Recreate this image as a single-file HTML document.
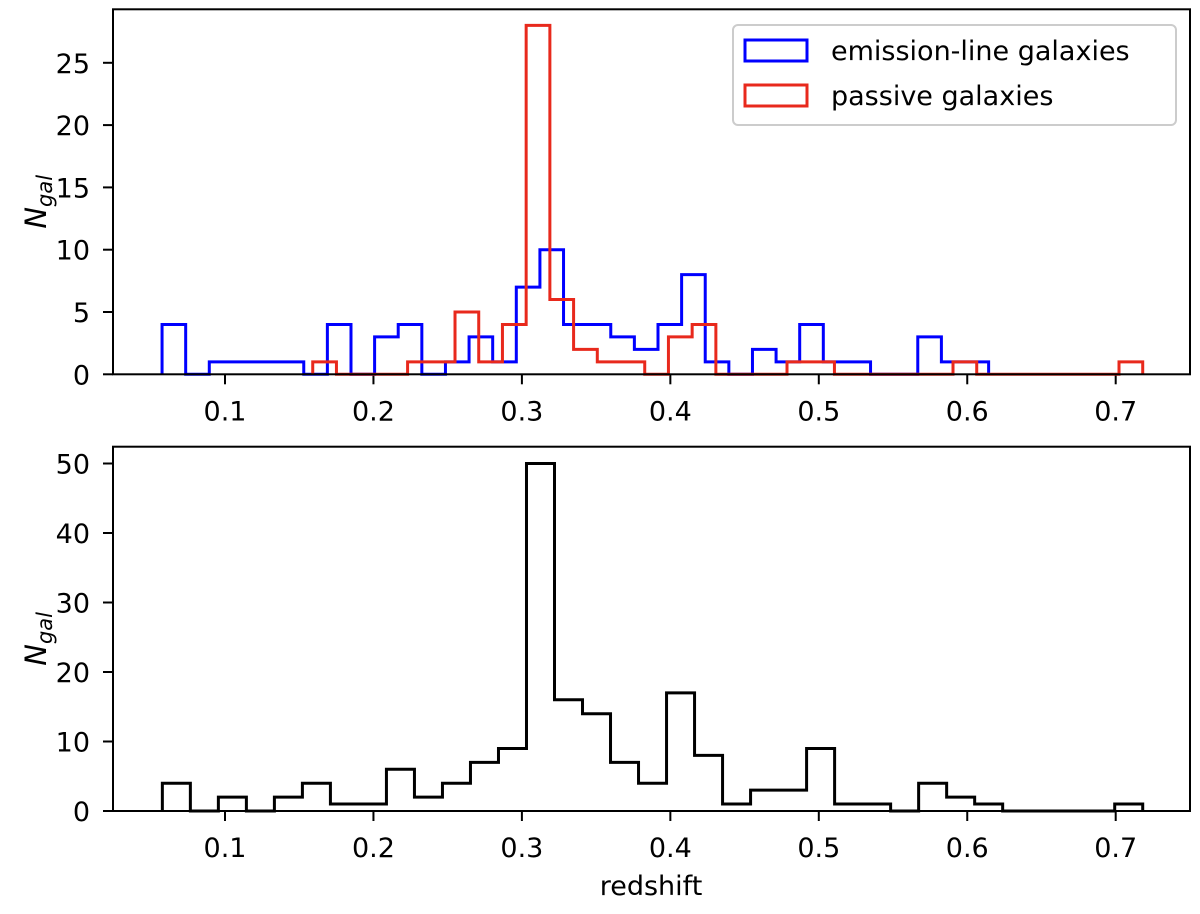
<!DOCTYPE html>
<html><head><meta charset="utf-8"><style>
html,body{margin:0;padding:0;background:#fff}
svg text{font-family:"DejaVu Sans","Liberation Sans",sans-serif;fill:#000}
</style></head><body>
<svg id="chart" width="1200" height="909" viewBox="0 0 1200 909" xmlns="http://www.w3.org/2000/svg">
<rect width="1200" height="909" fill="#fff"/>
<g id="top"></g>
<g id="bot"></g>
</svg>
<script>
const emissionCounts=[4,0,1,1,1,1,0,4,0,3,4,0,1,3,1,7,10,4,4,3,2,4,8,1,0,2,1,4,1,1,0,0,3,1,1];
const emissionRange=[0.0576,0.6144];
const passiveCounts=[1,0,0,0,1,1,5,1,4,28,6,2,1,1,0,3,4,0,0,0,1,1,0,0,0,0,0,1,0,0,0,0,0,0,1];
const passiveRange=[0.1591,0.7182];
const allCounts=[4,0,2,0,2,4,1,1,6,2,4,7,9,50,16,14,7,4,17,8,1,3,3,9,1,1,0,4,2,1,0,0,0,0,1];
const allRange=[0.0578,0.7182];
const xTicks=[0.1,0.2,0.3,0.4,0.5,0.6,0.7];
const topYTicks=[0,5,10,15,20,25];
const botYTicks=[0,10,20,30,40,50];

const NS="http://www.w3.org/2000/svg";
const L=113,R=1190;
const xs=v=>225+(v-0.1)*1484.5;
const topY=n=>374.3-12.46*n;
const botY=n=>811-6.95*n;
function mk(tag,attrs,parent){const e=document.createElementNS(NS,tag);for(const k in attrs)e.setAttribute(k,attrs[k]);parent.appendChild(e);return e;}
function stepPath(counts,range,ys){
  const w=(range[1]-range[0])/counts.length;
  let d="M"+xs(range[0])+","+ys(0);
  counts.forEach((c,i)=>{const x0=xs(range[0]+i*w),x1=xs(range[0]+(i+1)*w);d+=" L"+x0+","+ys(c)+" L"+x1+","+ys(c);});
  d+=" L"+xs(range[1])+","+ys(0);
  return d;
}
function axes(g,top,bottom,ys,yt,name){
  xTicks.forEach(t=>{
    const tk=mk("line",{x1:xs(t),x2:xs(t),y1:bottom,y2:bottom+10,stroke:"#000","stroke-width":2},g);
    
    
    const tx=mk("text",{x:xs(t),y:bottom+46,"font-size":27,"text-anchor":"middle"},g);
    tx.textContent=t.toFixed(1);
    
    
  });
  yt.forEach(t=>{
    const tk=mk("line",{x1:L-10,x2:L,y1:ys(t),y2:ys(t),stroke:"#000","stroke-width":2},g);
    
    
    const tx=mk("text",{x:90,y:ys(t)+10,"font-size":27,"text-anchor":"end"},g);
    tx.textContent=t;
    
    
  });
  const cy=(top+bottom)/2+10;
  const yl=mk("text",{transform:"translate(46,"+cy+") rotate(-90)","font-size":29,"text-anchor":"middle","font-style":"italic"},g);
  yl.innerHTML='N<tspan font-size="21" dy="6">gal</tspan>';
  
  
}
function frame(g,top,bottom,name){
  const f=mk("rect",{x:L,y:top,width:R-L,height:bottom-top,fill:"none",stroke:"#000","stroke-width":2},g);
  
  
}
const gt=document.getElementById("top"),gb=document.getElementById("bot");
axes(gt,9.3,374.3,topY,topYTicks,"top");
const pb=mk("path",{d:stepPath(emissionCounts,emissionRange,topY),fill:"none",stroke:"#0000ff","stroke-width":3,"stroke-linejoin":"miter"},gt);


const pr=mk("path",{d:stepPath(passiveCounts,passiveRange,topY),fill:"none",stroke:"#e8291c","stroke-width":3},gt);


frame(gt,9.3,374.3,"top");
const lg=mk("g",{},gt);


mk("rect",{x:733,y:25,width:443,height:100,rx:5,fill:"#fff","fill-opacity":0.8,stroke:"#cccccc","stroke-width":2},lg);
const e1=mk("rect",{x:745,y:40,width:62,height:21,fill:"none",stroke:"#0000ff","stroke-width":3},lg);


const t1=mk("text",{x:831,y:60,"font-size":27},lg);t1.textContent="emission-line galaxies";


const e2=mk("rect",{x:745,y:85,width:62,height:21,fill:"none",stroke:"#e8291c","stroke-width":3},lg);


const t2=mk("text",{x:831,y:105,"font-size":27},lg);t2.textContent="passive galaxies";



axes(gb,446.7,811,botY,botYTicks,"bottom");
const pa=mk("path",{d:stepPath(allCounts,allRange,botY),fill:"none",stroke:"#000","stroke-width":3},gb);


frame(gb,446.7,811,"bottom");
const xl=mk("text",{x:651,y:895,"font-size":27,"text-anchor":"middle"},gb);
xl.textContent="redshift";


</script>
</body></html>
